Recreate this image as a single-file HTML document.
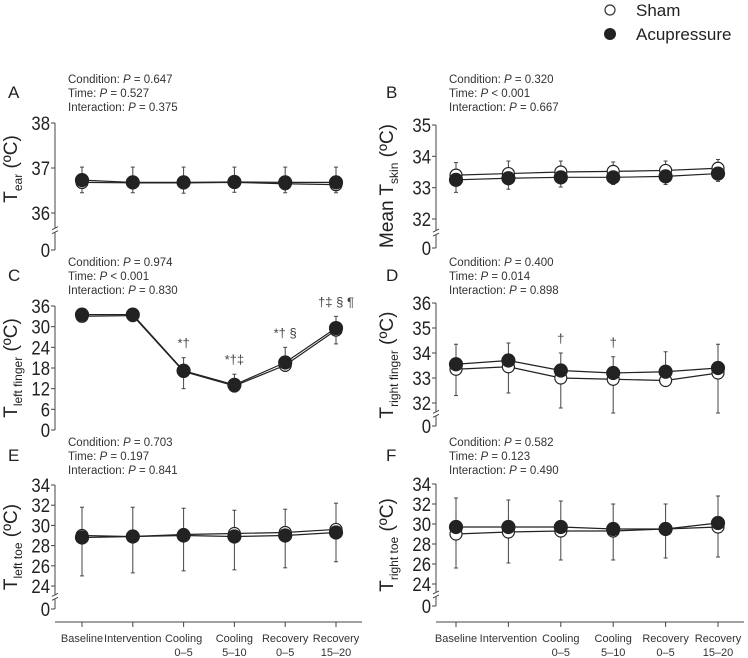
<!DOCTYPE html>
<html><head><meta charset="utf-8"><style>
body{margin:0;background:#fff;}
svg{display:block;font-family:"Liberation Sans",sans-serif;}
</style></head><body>
<svg id="chart" width="748" height="658" viewBox="0 0 748 658">
<g>
<circle cx="610" cy="10" r="5" fill="#fff" stroke="#333" stroke-width="1.2"/>
<text x="636" y="16" font-size="17" fill="#222">Sham</text>
<circle cx="610" cy="34" r="6" fill="#222"/>
<text x="636" y="40" font-size="17" fill="#222">Acupressure</text>
</g>
</svg>
<script>
const categories=[["Baseline"],["Intervention"],["Cooling","0–5"],["Cooling","5–10"],["Recovery","0–5"],["Recovery","15–20"]];
// Panel A: T ear
const aSham=[36.68,36.67,36.67,36.68,36.65,36.63];
const aAcu=[36.73,36.68,36.68,36.69,36.68,36.68];
const aUp=[37.02,37.02,37.02,37.02,37.02,37.02];
const aDown=[36.45,36.45,36.44,36.46,36.45,36.45];
const aTicks=[36,37,38];
// Panel B: mean T skin
const bSham=[33.4,33.45,33.5,33.52,33.55,33.62];
const bAcu=[33.25,33.3,33.33,33.33,33.36,33.45];
const bUp=[33.8,33.85,33.85,33.82,33.85,33.9];
const bDown=[32.85,32.95,33.02,33.1,33.1,33.2];
const bTicks=[32,33,34,35];
// Panel C: left finger
const cSham=[33,33.2,17,12.8,18.8,29];
const cAcu=[33.5,33.5,17.2,13.1,19.6,29.6];
const cUp=[33.6,33.6,21,16.2,24,33];
const cDown=[32.5,32.8,12,11,17,25];
const cTicks=[0,6,12,18,24,30,36];
// Panel D: right finger
const dSham=[33.35,33.45,33.0,32.95,32.9,33.2];
const dAcu=[33.55,33.7,33.3,33.2,33.25,33.4];
const dUp=[34.35,34.4,34.0,33.85,34.05,34.35];
const dDown=[32.3,32.4,31.8,31.6,32.9,31.6];
const dTicks=[32,33,34,35,36];
// Panel E: left toe
const eSham=[29,28.9,29.1,29.2,29.3,29.6];
const eAcu=[28.8,28.9,29.0,28.9,29.0,29.3];
const eUp=[31.8,31.8,31.7,31.5,31.6,32.2];
const eDown=[25,25.3,25.5,25.6,25.8,26.4];
const eTicks=[24,26,28,30,32,34];
// Panel F: right toe
const fSham=[29,29.2,29.3,29.3,29.5,29.7];
const fAcu=[29.7,29.7,29.7,29.5,29.5,30.1];
const fUp=[32.6,32.4,32.3,32.0,32.0,32.8];
const fDown=[25.6,26.1,26.4,26.4,26.6,26.7];
const fTicks=[24,26,28,30,32,34];

const NS="http://www.w3.org/2000/svg";
const svg=document.getElementById('chart');
function el(tag,attrs,parent,text){const e=document.createElementNS(NS,tag);for(const k in attrs)e.setAttribute(k,attrs[k]);if(text!==undefined)e.textContent=text;(parent||svg).appendChild(e);return e;}

const panels=[
 {id:'a',letter:'A',lx:8,ly:98,axX:55,tOff:38,x0:82,x1:336,yTop:123,yBot:213,vTop:38,vBot:36,zeroY:250,ticks:aTicks,sham:aSham,acu:aAcu,up:aUp,down:aDown,
  stats:["0.647","= 0.527","0.375"],title:["T","ear",""],titleY:169,marks:[]},
 {id:'b',letter:'B',lx:386,ly:98,axX:436,tOff:43,x0:456,x1:718,yTop:125,yBot:219,vTop:35,vBot:32,zeroY:248,ticks:bTicks,sham:bSham,acu:bAcu,up:bUp,down:bDown,
  stats:["0.320","< 0.001","0.667"],title:["Mean T","skin",""],titleY:186,marks:[]},
 {id:'c',letter:'C',lx:8,ly:281,axX:55,tOff:38,x0:82,x1:336,yTop:306,yBot:430,vTop:36,vBot:0,zeroY:null,ticks:cTicks,sham:cSham,acu:cAcu,up:cUp,down:cDown,
  stats:["0.974","< 0.001","0.830"],title:["T","left finger",""],titleY:368,marks:[[2,"*†"],[3,"*†‡"],[4,"*† §"],[5,"†‡ § ¶"]]},
 {id:'d',letter:'D',lx:386,ly:281,axX:436,tOff:43,x0:456,x1:718,yTop:303,yBot:403,vTop:36,vBot:32,zeroY:426,ticks:dTicks,sham:dSham,acu:dAcu,up:dUp,down:dDown,
  stats:["0.400","= 0.014","0.898"],title:["T","right finger",""],titleY:365,marks:[[2,"†"],[3,"†"]]},
 {id:'e',letter:'E',lx:8,ly:461,axX:55,tOff:38,x0:82,x1:336,yTop:485,yBot:586,vTop:34,vBot:24,zeroY:609,ticks:eTicks,sham:eSham,acu:eAcu,up:eUp,down:eDown,
  stats:["0.703","= 0.197","0.841"],title:["T","left toe",""],titleY:547,marks:[]},
 {id:'f',letter:'F',lx:386,ly:461,axX:436,tOff:43,x0:456,x1:718,yTop:484,yBot:584,vTop:34,vBot:24,zeroY:606,ticks:fTicks,sham:fSham,acu:fAcu,up:fUp,down:fDown,
  stats:["0.582","= 0.123","0.490"],title:["T","right toe",""],titleY:545,marks:[]}
];

panels.forEach(p=>{
 const g=el('g',{});
 
 
 const yS=v=>p.yTop+(p.vTop-v)/(p.vTop-p.vBot)*(p.yBot-p.yTop);
 const xS=i=>p.x0+i*(p.x1-p.x0)/(categories.length-1);
 const lt=el('text',{x:p.lx,y:p.ly,'font-size':17,fill:'#222'},g,p.letter);
 
 
 const sx=p.axX+13;
 const labels=["Condition: ","Time: ","Interaction: "];
 labels.forEach((l,k)=>{
  const t=el('text',{x:sx,y:p.ly-15+k*14,'font-size':11.5,fill:'#333'},g);
  
  
  el('tspan',{},t,l);el('tspan',{'font-style':'italic'},t,'P');
  const v=p.stats[k];el('tspan',{},t,' '+(v[0]==='='||v[0]==='<'?v:'= '+v));
 });
 const ax=el('g',{stroke:'#444','stroke-width':1,fill:'none'},g);
 
 
 const tick=(y,s)=>{
  const t=el('text',{transform:`translate(${p.axX-5},${y+7}) scale(0.88,1)`,'font-size':19,fill:'#222','text-anchor':'end'},g,s);
  
  
 };
 if(p.zeroY!==null){
  const bk=p.yBot+(p.zeroY-p.yBot)*0.45;
  el('line',{x1:p.axX,y1:p.yTop,x2:p.axX,y2:bk-2},ax);
  el('line',{x1:p.axX,y1:bk+3,x2:p.axX,y2:p.zeroY},ax);
  el('path',{d:`M${p.axX-3} ${bk}l6 -3M${p.axX-3} ${bk+4}l6 -3`},ax);
  el('line',{x1:p.axX-4,y1:p.zeroY,x2:p.axX,y2:p.zeroY},ax);
  tick(p.zeroY,'0');
 } else el('line',{x1:p.axX,y1:p.yTop,x2:p.axX,y2:p.yBot},ax);
 p.ticks.forEach(v=>{
  const y=yS(v);
  el('line',{x1:p.axX-4,y1:y,x2:p.axX,y2:y},ax);
  tick(y,String(v));
 });
 const tt=el('text',{transform:`translate(${p.axX-p.tOff},${p.titleY}) rotate(-90)`,'font-size':19,fill:'#222','text-anchor':'middle'},g);
 
 
 el('tspan',{},tt,p.title[0]);
 el('tspan',{'font-size':12,dy:5},tt,p.title[1]);
 el('tspan',{dy:-5},tt,' (ºC)');
 const eb=el('g',{stroke:'#444','stroke-width':1},g);
 
 
 categories.forEach((c,i)=>{
  const x=xS(i);
  el('line',{x1:x,y1:yS(p.up[i]),x2:x,y2:yS(p.down[i])},eb);
  el('line',{x1:x-2,y1:yS(p.up[i]),x2:x+2,y2:yS(p.up[i])},eb);
  el('line',{x1:x-2,y1:yS(p.down[i]),x2:x+2,y2:yS(p.down[i])},eb);
 });
 [[p.sham,'sham'],[p.acu,'acupressure']].forEach(([s,n])=>{
  const pts=s.map((v,i)=>xS(i)+','+yS(v)).join(' ');
  const l=el('polyline',{points:pts,fill:'none',stroke:'#222','stroke-width':1.2},g);
  
  
 });
 [[p.sham,'sham'],[p.acu,'acupressure']].forEach(([s,n])=>{
  s.forEach((v,i)=>{
   const c=el('circle',{cx:xS(i),cy:yS(v),r:n==='sham'?6:6.5,fill:n==='sham'?'#fff':'#222',stroke:'#222','stroke-width':1.2},g);
   
   
  });
 });
 p.marks.forEach(([i,s])=>{
  const t=el('text',{x:xS(i),y:yS(p.up[i])-10,'font-size':13,fill:'#444','text-anchor':'middle'},g,s);
  
  
 });
 if(p.id==='e'||p.id==='f'){
  const xa=el('g',{stroke:'#444','stroke-width':1},g);
  
  
  el('line',{x1:p.axX,y1:622,x2:p.x1+26,y2:622},xa);
  categories.forEach((c,i)=>{
   const x=xS(i);
   el('line',{x1:x,y1:622,x2:x,y2:627},xa);
   c.forEach((s,k)=>{
    const t=el('text',{x:x,y:642+k*14,'font-size':11,fill:'#333','text-anchor':'middle'},g,s);
    
    
   });
  });
 }
});
</script>
</body></html>
